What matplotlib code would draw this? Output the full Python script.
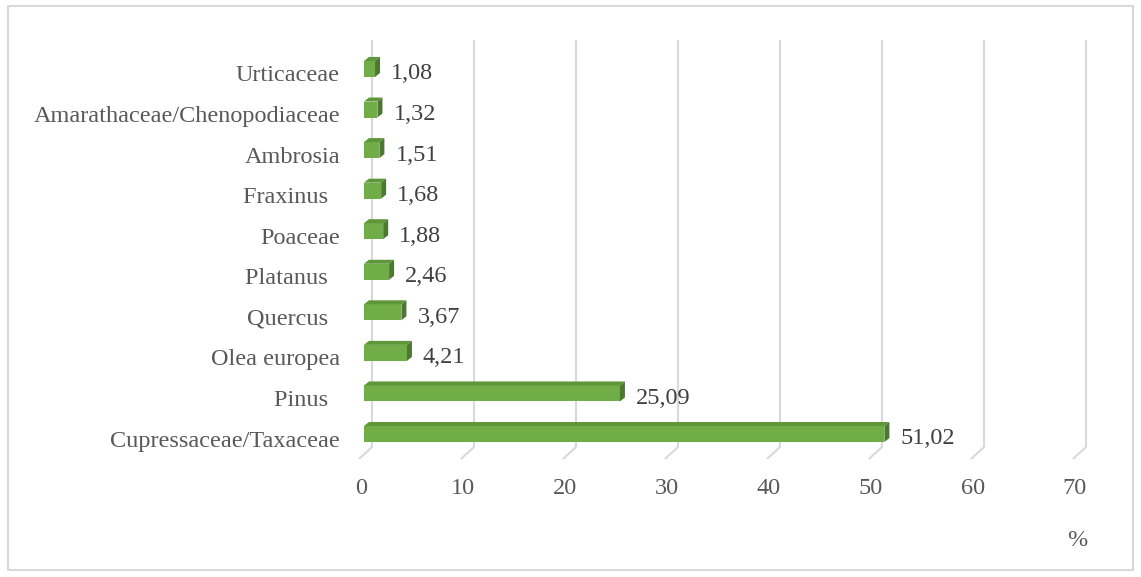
import matplotlib.pyplot as plt
from matplotlib.patches import Polygon, Rectangle

# data (bottom to top); some source labels carry trailing blanks
taxa = ["Cupressaceae/Taxaceae", "Pinus  ", "Olea europea", "Quercus  ", "Platanus  ",
        "Poaceae", "Fraxinus  ", "Ambrosia", "Amarathaceae/Chenopodiaceae", "Urticaceae"]
values = [51.02, 25.09, 4.21, 3.67, 2.46, 1.88, 1.68, 1.51, 1.32, 1.08]
ticks = [0, 10, 20, 30, 40, 50, 60, 70]

W, H = 1141, 577
fig = plt.figure(figsize=(W / 100, H / 100), dpi=100)
fig.patch.set_facecolor("white")

# outer border like an Excel chart area
fig.add_artist(Rectangle((8 / W, 1 - 570 / H), 1125 / W, 564 / H, transform=fig.transFigure,
                         fill=False, edgecolor="#D9D9D9", linewidth=1.5))

# axes placed so that 1 unit = 10.2 px and one category step = 40.56 px
L, R, T, B = 340, 1110, 30, 470
ax = fig.add_axes([L / W, 1 - B / H, (R - L) / W, (B - T) / H])
sx, x0px = 10.2, 364
sy, y0px = 40.56, 434
ax.set_xlim((L - x0px) / sx, (R - x0px) / sx)
ax.set_ylim((y0px - B) / sy, (y0px - T) / sy)
ax.axis("off")

# depth offsets of the 3D look, in data units
dx, dy = 5 / sx, 4 / sy
hh = 8 / sy
gx = 8 / sx  # back wall shift
fs = 17.5
txt = dict(family="Liberation Serif", fontsize=fs, clip_on=False)

grid_c = "#D9D9D9"
for t in ticks:
    xb = t + gx
    ax.plot([xb, xb, xb - 13 / sx], [(y0px - 40) / sy, (y0px - 447) / sy, (y0px - 459) / sy],
            color=grid_c, lw=1.5, zorder=1, solid_capstyle="butt")
    ax.text(t - 3 / sx, (y0px - 489) / sy, str(t), ha="center", va="center",
            color="#595959", **txt)

front_c, top_c, side_c = "#70AD47", "#5E9639", "#4A7A2C"
for i, (name, v) in enumerate(zip(taxa, values)):
    ax.add_patch(Rectangle((0, i - hh), v, 2 * hh, facecolor=front_c, edgecolor="none", zorder=3))
    ax.add_patch(Polygon([(0, i + hh), (v, i + hh), (v + dx, i + hh + dy), (dx, i + hh + dy)],
                         closed=True, facecolor=top_c, edgecolor="none", zorder=3))
    ax.add_patch(Polygon([(v, i - hh), (v + dx, i - hh + dy), (v + dx, i + hh + dy), (v, i + hh)],
                         closed=True, facecolor=side_c, edgecolor="none", zorder=3))
    ax.text(v + dx + 11 / sx, i - 5 / sy, f"{v:.2f}".replace(".", ","), ha="left", va="center",
            color="#404040", **txt)
    ax.text(-24 / sx, i - 7 / sy, name, ha="right", va="center", color="#595959", **txt)

ax.text((1077 - x0px) / sx, (y0px - 540) / sy, "%", ha="center", va="center",
        color="#595959", **txt)

fig.savefig("out.png", dpi=100, facecolor="white")
